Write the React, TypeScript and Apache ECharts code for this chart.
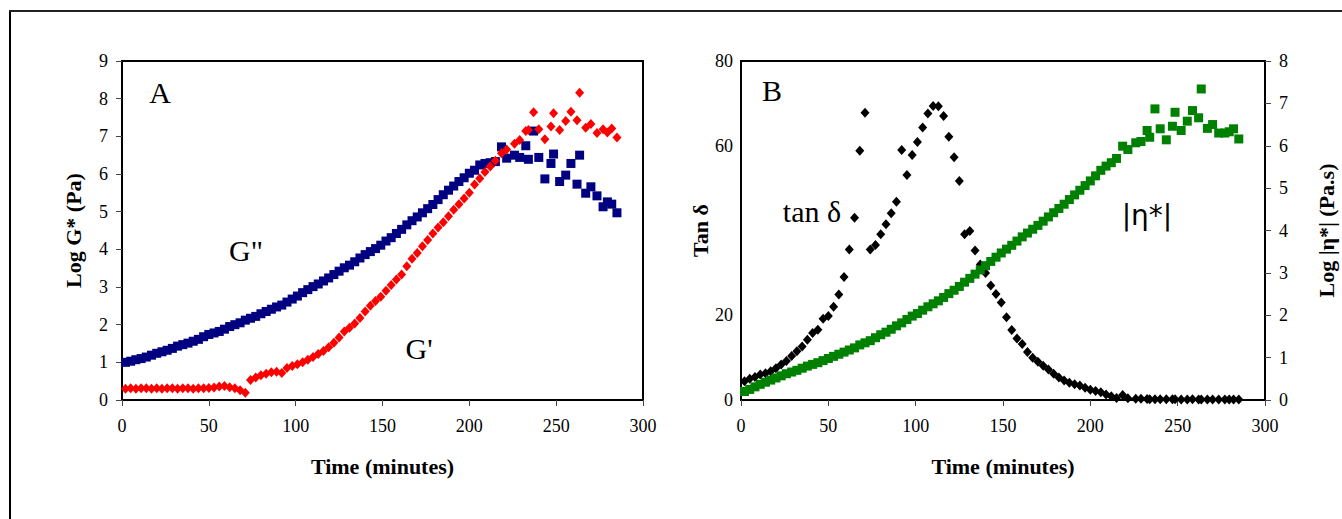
import React, { useEffect, useRef } from "react";
import * as echarts from "echarts";

// Measurement times (minutes), shared by both panels
const TIME = [
  2, 5, 8, 11, 14, 17, 20, 23, 26, 29,
  32, 35, 38, 41, 44, 47, 50, 53, 56, 59,
  62, 65, 68, 71, 74, 77, 80, 83, 86, 89,
  92, 95, 98, 101, 104, 107, 110, 113, 116, 119,
  122, 125, 128, 131, 134, 137, 140, 143, 146, 149,
  152, 155, 158, 161, 164, 167, 170, 173, 176, 179,
  182, 185, 188, 191, 194, 197, 200, 203, 206, 209,
  212, 215,
  218.5, 221.5, 226, 229, 232.5, 234, 237, 240, 243.5, 247,
  248.5, 252, 255.5, 258.5, 262, 263.5, 267, 270, 273.5, 277,
  279.5, 282, 285,
];

// Panel A: Log G'' (Pa)
const G_DOUBLE_PRIME = [
  1.0, 1.03, 1.07, 1.1, 1.14, 1.19, 1.24, 1.28, 1.32, 1.37,
  1.43, 1.47, 1.51, 1.56, 1.61, 1.68, 1.74, 1.78, 1.82, 1.88,
  1.95, 2.0, 2.05, 2.12, 2.17, 2.22, 2.29, 2.35, 2.41, 2.47,
  2.52, 2.6, 2.68, 2.76, 2.85, 2.93, 3.01, 3.08, 3.16, 3.24,
  3.33, 3.42, 3.51, 3.58, 3.67, 3.77, 3.86, 3.94, 4.02, 4.11,
  4.22, 4.31, 4.42, 4.53, 4.65, 4.76, 4.86, 4.97, 5.08, 5.19,
  5.32, 5.45, 5.57, 5.68, 5.8, 5.9, 6.02, 6.1, 6.24, 6.28,
  6.3, 6.33,
  6.72, 6.42, 6.5, 6.44, 6.75, 6.39, 7.14, 6.44, 5.87, 6.28,
  6.53, 5.8, 5.97, 6.28, 5.73, 6.5, 5.49, 5.66, 5.42, 5.13,
  5.26, 5.2, 4.97,
];

// Panel A: Log G' (Pa)
const G_PRIME = [
  0.3, 0.31, 0.3, 0.31, 0.31, 0.3, 0.31, 0.3, 0.31, 0.31,
  0.3, 0.31, 0.31, 0.3, 0.31, 0.31, 0.32, 0.33, 0.36, 0.37,
  0.34, 0.31, 0.26, 0.19, 0.53, 0.6, 0.66, 0.7, 0.74, 0.75,
  0.72, 0.85, 0.9, 0.95, 1.0, 1.07, 1.14, 1.22, 1.3, 1.4,
  1.52, 1.66, 1.82, 1.92, 2.03, 2.18, 2.35, 2.5, 2.63, 2.74,
  2.9, 3.05, 3.2, 3.33, 3.55, 3.75, 3.9, 4.08, 4.25, 4.42,
  4.58, 4.72, 4.88, 5.05, 5.2, 5.35, 5.5, 5.72, 5.88, 6.05,
  6.2, 6.35,
  6.55, 6.65, 6.8, 6.9, 7.14, 7.17, 7.64, 7.19, 6.92, 7.26,
  7.61, 7.17, 7.41, 7.65, 7.43, 8.16, 7.23, 7.33, 7.09, 7.19,
  7.1, 7.21, 6.97,
];

// Panel B: tan delta (left axis)
const TAN_DELTA = [
  4.4, 5.0, 5.4, 6.0, 6.3, 6.8, 7.5, 8.4, 9.2, 10.4,
  11.5, 12.6, 14.2, 15.8, 16.6, 19.2, 19.8, 22.0, 24.9, 29.0,
  35.5, 43.0, 58.8, 67.8, 35.5, 36.6, 39.1, 41.5, 44.1, 46.8,
  59.0, 53.1, 57.8, 60.9, 64.3, 67.6, 69.4, 69.3, 67.0, 62.1,
  57.3, 51.7, 39.1, 39.9, 35.3, 32.0, 30.0, 27.0, 25.0, 23.0,
  19.5, 16.5, 14.5, 13.2, 11.3, 10.0, 9.0, 8.1, 7.2, 6.2,
  5.3, 4.6, 4.1, 3.7, 3.4, 2.9, 2.4, 2.1, 1.8, 1.3,
  0.9, 0.5,
  1.2, 0.4, 0.3, 0.3, 0.25, 0.2, 0.2, 0.2, 0.15, 0.15,
  0.15, 0.1, 0.1, 0.15, 0.1, 0.1, 0.1, 0.1, 0.1, 0.1,
  0.1, 0.1, 0.1,
];

// Panel B: Log |eta*| (Pa.s) (right axis)
const ETA = [
  0.2, 0.25, 0.31, 0.37, 0.42, 0.47, 0.52, 0.57, 0.62, 0.66,
  0.7, 0.75, 0.8, 0.84, 0.88, 0.93, 0.98, 1.03, 1.08, 1.13,
  1.18, 1.23, 1.3, 1.35, 1.4, 1.47, 1.54, 1.6, 1.67, 1.75,
  1.82, 1.9, 1.98, 2.04, 2.12, 2.2, 2.27, 2.34, 2.42, 2.51,
  2.59, 2.68, 2.78, 2.87, 2.97, 3.07, 3.17, 3.27, 3.37, 3.47,
  3.56, 3.65, 3.75, 3.85, 3.94, 4.03, 4.12, 4.22, 4.32, 4.42,
  4.52, 4.62, 4.73, 4.84, 4.95, 5.06, 5.17, 5.29, 5.42, 5.52,
  5.6, 5.7,
  5.99, 5.91, 6.07, 6.1, 6.36, 6.2, 6.87, 6.4, 6.14, 6.46,
  6.79, 6.36, 6.58, 6.83, 6.66, 7.34, 6.41, 6.5, 6.3, 6.3,
  6.33, 6.4, 6.16,
];

const X_TICKS = [0, 300, 50];

const SERIF = "'Liberation Serif', 'Times New Roman', serif";

const pairs = (vals: number[]) => TIME.map((t, i) => [t, vals[i]]);

function xAxisDef(gridIndex: number) {
  return {
    type: "value",
    gridIndex,
    min: X_TICKS[0],
    max: X_TICKS[1],
    interval: X_TICKS[2],
    name: "Time (minutes)",
    nameLocation: "middle",
    nameGap: 55,
    nameTextStyle: { fontFamily: SERIF, fontWeight: "bold", fontSize: 22, color: "#000" },
    axisLine: { show: true, onZero: false, lineStyle: { color: "#000", width: 2 } },
    axisTick: { show: true, inside: false, length: 6, lineStyle: { color: "#444", width: 1 } },
    axisLabel: { fontSize: 18, color: "#000", margin: 17, fontFamily: SERIF },
    splitLine: { show: false },
  };
}

export default function App() {
  const ref = useRef<HTMLDivElement>(null);

  useEffect(() => {
    if (!ref.current) return;
    const chart = echarts.init(ref.current, null, { renderer: "svg" });
    const option: any = {
      animation: false,
      backgroundColor: "#fff",
      textStyle: { fontFamily: SERIF },
      grid: [
        { left: 122, top: 61, width: 521, height: 339, show: true, borderColor: "#000", borderWidth: 2 },
        { left: 741, top: 61, width: 524, height: 339, show: true, borderColor: "#000", borderWidth: 2 },
      ],
      xAxis: [xAxisDef(0), xAxisDef(1)],
      yAxis: [
        {
          type: "value",
          gridIndex: 0,
          min: 0,
          max: 9,
          interval: 1,
          name: "Log G* (Pa)",
          nameLocation: "middle",
          nameRotate: 90,
          nameGap: 38,
          nameTextStyle: { fontFamily: SERIF, fontWeight: "bold", fontSize: 22, color: "#000" },
          axisLine: { show: true, lineStyle: { color: "#000", width: 2 } },
          axisTick: { show: true, inside: false, length: 6, lineStyle: { color: "#444", width: 1 } },
          axisLabel: { fontSize: 18, color: "#000", margin: 14, fontFamily: SERIF },
          splitLine: { show: false },
        },
        {
          type: "value",
          gridIndex: 1,
          position: "left",
          min: 0,
          max: 80,
          interval: 20,
          name: "Tan δ",
          nameLocation: "middle",
          nameRotate: 90,
          nameGap: 20,
          nameTextStyle: { fontFamily: SERIF, fontWeight: "bold", fontSize: 22, color: "#000" },
          axisLine: { show: true, lineStyle: { color: "#000", width: 2 } },
          axisTick: { show: false },
          axisLabel: {
            fontSize: 18,
            color: "#000",
            margin: 8,
            fontFamily: SERIF,
            formatter: (v: number) => (v === 40 ? "" : String(v)),
          },
          splitLine: { show: false },
        },
        {
          type: "value",
          gridIndex: 1,
          position: "right",
          min: 0,
          max: 8,
          interval: 1,
          name: "Log |η*| (Pa.s)",
          nameLocation: "middle",
          nameRotate: 90,
          nameGap: 50,
          nameTextStyle: { fontFamily: SERIF, fontWeight: "bold", fontSize: 22, color: "#000" },
          axisLine: { show: true, lineStyle: { color: "#000", width: 2 } },
          axisTick: { show: true, inside: false, length: 6, lineStyle: { color: "#444", width: 1 } },
          axisLabel: { fontSize: 18, color: "#000", margin: 14, fontFamily: SERIF },
          splitLine: { show: false },
        },
      ],
      series: [
        {
          name: "G''",
          type: "scatter",
          xAxisIndex: 0,
          yAxisIndex: 0,
          symbol: "rect",
          symbolSize: 9,
          itemStyle: { color: "#000080", opacity: 1 },
          data: pairs(G_DOUBLE_PRIME),
        },
        {
          name: "G'",
          type: "scatter",
          xAxisIndex: 0,
          yAxisIndex: 0,
          symbol: "diamond",
          symbolSize: [9, 10],
          itemStyle: { color: "#FF0000", opacity: 1 },
          data: pairs(G_PRIME),
        },
        {
          name: "tan δ",
          type: "scatter",
          xAxisIndex: 1,
          yAxisIndex: 1,
          symbol: "diamond",
          symbolSize: [9, 10],
          itemStyle: { color: "#000000", opacity: 1 },
          data: pairs(TAN_DELTA),
        },
        {
          name: "|η*|",
          type: "scatter",
          xAxisIndex: 1,
          yAxisIndex: 2,
          symbol: "rect",
          symbolSize: 9,
          itemStyle: { color: "#008000", opacity: 1 },
          data: pairs(ETA),
        },
      ],
      graphic: [
        { type: "line", shape: { x1: 10, y1: 11, x2: 10, y2: 519 }, style: { stroke: "#000", lineWidth: 2 } },
        { type: "line", shape: { x1: 9, y1: 11, x2: 1342, y2: 11 }, style: { stroke: "#222", lineWidth: 2 } },
        { type: "text", x: 160, y: 92, style: { text: "A", font: `30px ${SERIF}`, fill: "#000", textAlign: "center", textVerticalAlign: "middle" } },
        { type: "text", x: 246, y: 250, style: { text: 'G"', font: `30px ${SERIF}`, fill: "#000", textAlign: "center", textVerticalAlign: "middle" } },
        { type: "text", x: 419, y: 348, style: { text: "G'", font: `30px ${SERIF}`, fill: "#000", textAlign: "center", textVerticalAlign: "middle" } },
        { type: "text", x: 772, y: 90, style: { text: "B", font: `30px ${SERIF}`, fill: "#000", textAlign: "center", textVerticalAlign: "middle" } },
        { type: "text", x: 812, y: 211, style: { text: "tan δ", font: `30px ${SERIF}`, fill: "#000", textAlign: "center", textVerticalAlign: "middle" } },
        { type: "text", x: 1147, y: 215, style: { text: "|η*|", font: `28px 'DejaVu Sans', sans-serif`, fill: "#000", textAlign: "center", textVerticalAlign: "middle" } },
      ],
    };
    chart.setOption(option);
    return () => chart.dispose();
  }, []);

  return (
    <div
      ref={ref}
      style={{ position: "absolute", left: 0, top: 0, width: 1342, height: 519, background: "#fff" }}
    />
  );
}
